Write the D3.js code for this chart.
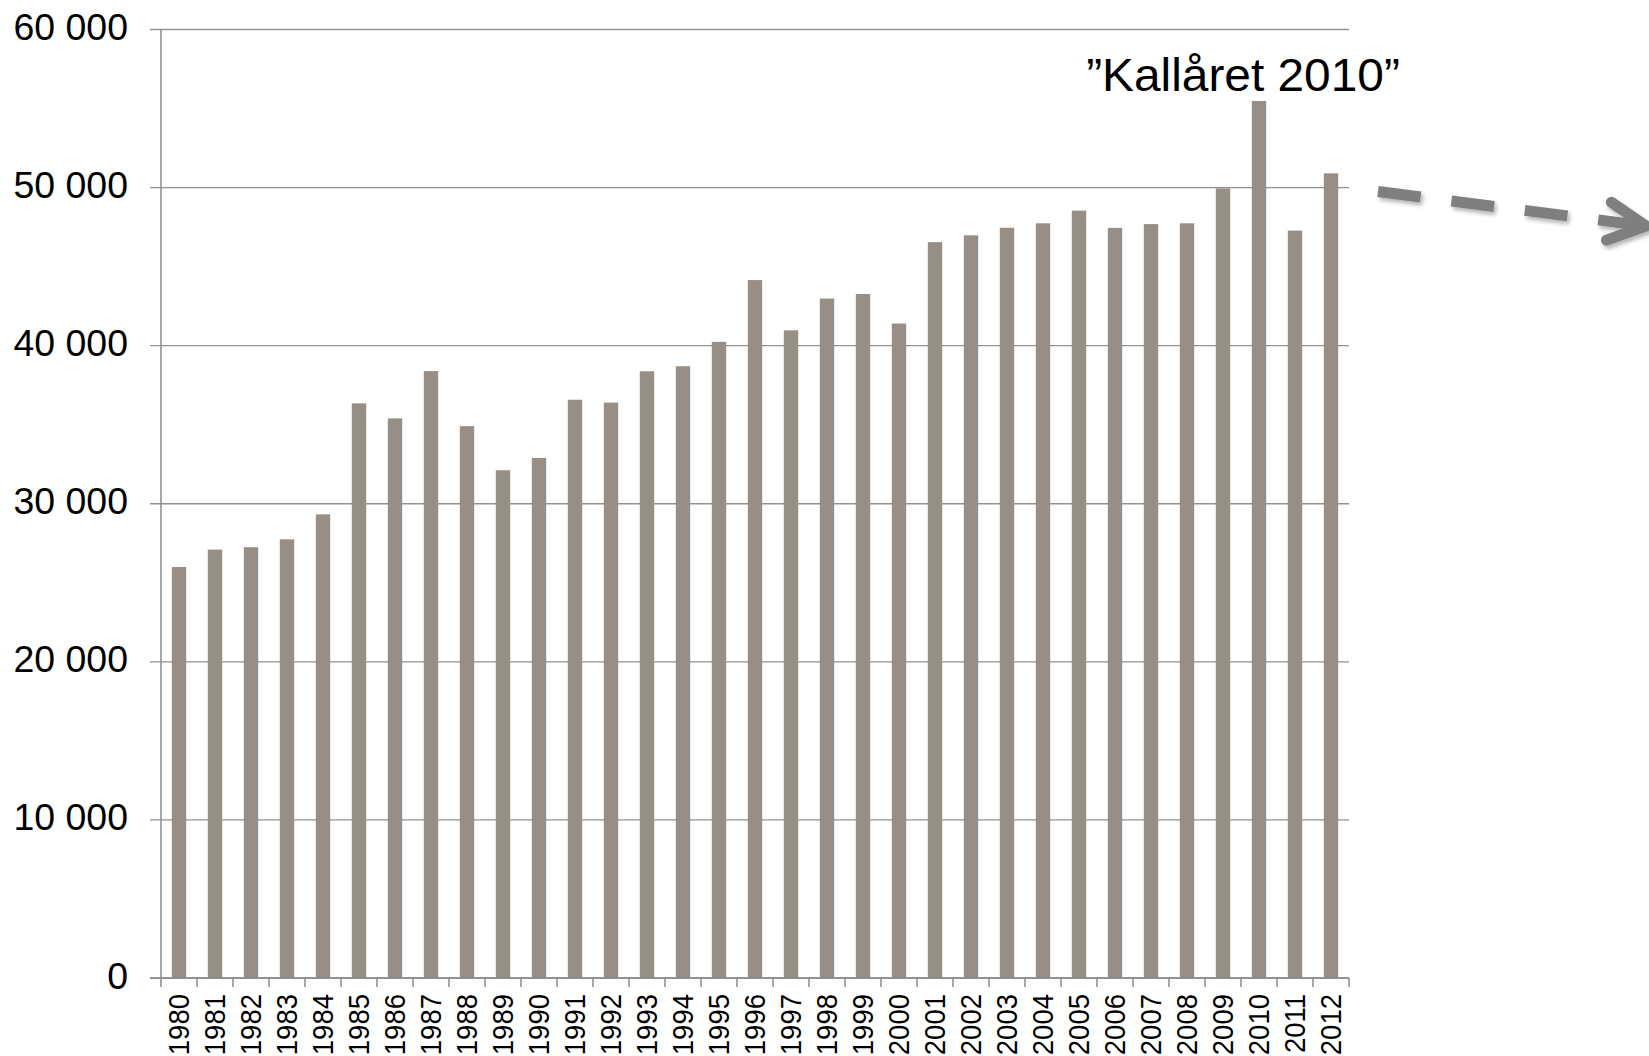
<!DOCTYPE html>
<html>
<head>
<meta charset="utf-8">
<script src="https://cdn.jsdelivr.net/npm/d3@7"></script>
<style>
  body { margin: 0; background: #fff; }
  text { font-family: "Liberation Sans", Arial, sans-serif; }
</style>
</head>
<body>
<div id="chart"></div>
<script>
// data
var years = ["1980","1981","1982","1983","1984","1985","1986","1987","1988","1989",
             "1990","1991","1992","1993","1994","1995","1996","1997","1998","1999",
             "2000","2001","2002","2003","2004","2005","2006","2007","2008","2009",
             "2010","2011","2012"];
var values = [26000, 27100, 27250, 27750, 29330, 36350, 35400, 38390, 34910, 32120,
              32900, 36580, 36400, 38380, 38700, 40240, 44150, 40970, 42980, 43270,
              41400, 46550, 46980, 47460, 47740, 48540, 47450, 47690, 47740, 49950,
              55480, 47280, 50900];
var yTicks = [0, 10000, 20000, 30000, 40000, 50000, 60000];
var yTickLabels = ["0", "10 000", "20 000", "30 000", "40 000", "50 000", "60 000"];
var noteYear = "2010";
var noteText = "\u201DKallåret 2010\u201D";

var width = 1649, height = 1056;
var plotLeft = 161, plotRight = 1349, plotTop = 29.5, plotBottom = 978;
var stretch = 1.04;   // the picture's text is a touch wide

var svg = d3.select("#chart")
    .append("svg")
    .attr("width", width)
    .attr("height", height);

var x = d3.scaleBand()
    .domain(years)
    .range([plotLeft, plotRight])
    .padding(0);

var y = d3.scaleLinear()
    .domain([0, 60000])
    .range([plotBottom, plotTop]);

// gridlines
svg.append("g")
    .selectAll("line")
    .data(yTicks)
    .enter()
    .append("line")
    .attr("x1", plotLeft - 11)
    .attr("x2", plotRight)
    .attr("y1", function(d) { return y(d); })
    .attr("y2", function(d) { return y(d); })
    .style("stroke", "#929292")
    .style("stroke-width", 1.4);

// y tick labels
svg.append("g")
    .selectAll("text")
    .data(yTicks)
    .enter()
    .append("text")
    .attr("transform", function(d) {
        return "translate(128," + (y(d) + 10.5) + ") scale(" + stretch + ",1)";
    })
    .attr("text-anchor", "end")
    .attr("font-size", 36)
    .attr("fill", "#000")
    .text(function(d, i) { return yTickLabels[i]; });

// bars
var barW = x.bandwidth() * 0.4;
svg.append("g")
    .selectAll("rect")
    .data(values)
    .enter()
    .append("rect")
    .attr("x", function(d, i) { return x(years[i]) + (x.bandwidth() - barW) / 2; })
    .attr("y", function(d) { return y(d); })
    .attr("width", barW)
    .attr("height", function(d) { return plotBottom - y(d); })
    .style("fill", "#978f85");

// axes lines
svg.append("line")
    .attr("x1", plotLeft).attr("x2", plotLeft)
    .attr("y1", plotTop).attr("y2", plotBottom)
    .style("stroke", "#8a8a8a")
    .style("stroke-width", 1.5);

svg.append("line")
    .attr("x1", plotLeft - 11).attr("x2", plotRight)
    .attr("y1", plotBottom).attr("y2", plotBottom)
    .style("stroke", "#8a8a8a")
    .style("stroke-width", 1.5);

// x ticks at category edges
var edges = years.map(function(d) { return x(d); }).concat([plotRight]);
svg.append("g")
    .selectAll("line")
    .data(edges)
    .enter()
    .append("line")
    .attr("x1", function(d) { return d; })
    .attr("x2", function(d) { return d; })
    .attr("y1", plotBottom)
    .attr("y2", plotBottom + 9)
    .style("stroke", "#8a8a8a")
    .style("stroke-width", 1.5);

// x labels, rotated
svg.append("g")
    .selectAll("text")
    .data(years)
    .enter()
    .append("text")
    .attr("transform", function(d) {
        return "translate(" + (x(d) + x.bandwidth() / 2) + ",994) scale(" + stretch + ",1) rotate(-90)";
    })
    .attr("text-anchor", "end")
    .attr("dy", "0.36em")
    .attr("font-size", 27.5)
    .attr("fill", "#000")
    .text(function(d) { return d; });

// annotation over the 2010 bar
svg.append("text")
    .attr("transform", "translate(" + (x(noteYear) + x.bandwidth() / 2 - 16) + ",91) scale(" + stretch + ",1)")
    .attr("text-anchor", "middle")
    .attr("font-size", 46)
    .attr("fill", "#000")
    .text(noteText);

// dashed arrow pointing right
var defs = svg.append("defs");
var shadow = defs.append("filter")
    .attr("id", "shadow")
    .attr("x", "-20%").attr("y", "-50%")
    .attr("width", "140%").attr("height", "200%");
shadow.append("feDropShadow")
    .attr("dx", 2).attr("dy", 3)
    .attr("stdDeviation", 2)
    .attr("flood-color", "#000")
    .attr("flood-opacity", 0.3);

var a0 = [plotRight + 29, 191.5], a1 = [1646, 226];
var ang = Math.atan2(a1[1] - a0[1], a1[0] - a0[0]);
var headLen = 42, headAng = 27 * Math.PI / 180;

var arrow = svg.append("g").attr("filter", "url(#shadow)");
arrow.append("line")
    .attr("x1", a0[0]).attr("y1", a0[1])
    .attr("x2", a1[0] - 3 * Math.cos(ang)).attr("y2", a1[1] - 3 * Math.sin(ang))
    .style("stroke", "#7f7f7f")
    .style("stroke-width", 11)
    .style("stroke-dasharray", "43,31");

arrow.append("path")
    .attr("d", d3.line()([
        [a1[0] - headLen * Math.cos(ang - headAng), a1[1] - headLen * Math.sin(ang - headAng)],
        a1,
        [a1[0] - headLen * Math.cos(ang + headAng), a1[1] - headLen * Math.sin(ang + headAng)]
    ]))
    .style("fill", "none")
    .style("stroke", "#7f7f7f")
    .style("stroke-width", 11)
    .style("stroke-linecap", "round")
    .style("stroke-linejoin", "round");
</script>
</body>
</html>
